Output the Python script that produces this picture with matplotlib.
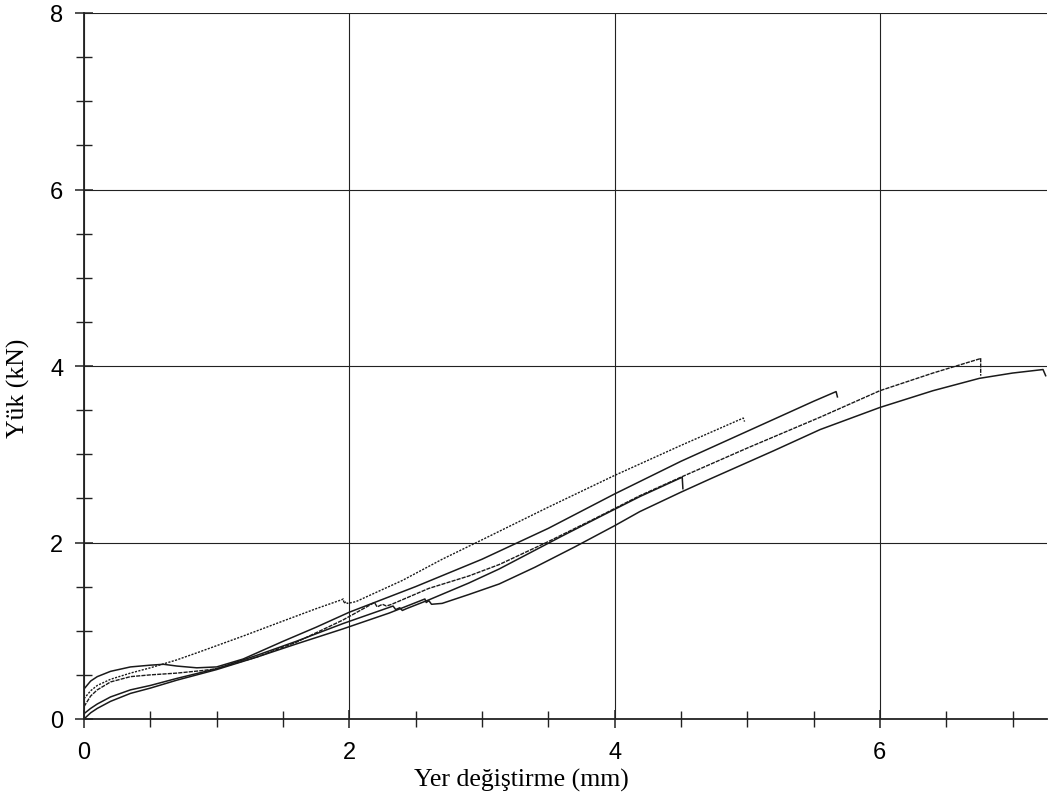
import matplotlib
matplotlib.use("Agg")
import matplotlib.pyplot as plt
from matplotlib.ticker import MultipleLocator

# ---- data ----
xlabel = "Yer değiştirme (mm)"
ylabel = "Yük (kN)"
x_major_ticks = [0, 2, 4, 6]
y_major_ticks = [0, 2, 4, 6, 8]

# Specimen A (dotted), ends at ~4.97 mm
a_x = [0, 0.05, 0.1, 0.2, 0.35, 0.5, 0.7, 0.87, 1.2, 1.5, 1.75, 1.94, 1.955, 1.96, 1.975, 1.985, 2.02, 2.05,
       2.4, 2.7, 3.0, 3.5, 4.0, 4.5, 4.97, 4.98]
a_y = [0.23, 0.32, 0.38, 0.45, 0.52, 0.58, 0.67, 0.76, 0.94, 1.11, 1.25, 1.35, 1.36, 1.31, 1.33, 1.31, 1.32, 1.33,
       1.57, 1.81, 2.03, 2.40, 2.76, 3.10, 3.41, 3.37]

# Specimen B (solid, hump at start), ends at ~5.68 mm
b_x = [0, 0.05, 0.1, 0.2, 0.35, 0.5, 0.6, 0.7, 0.85, 1.0, 1.2, 1.5, 1.75, 2.0, 2.5, 3.0, 3.5, 4.0, 4.5, 5.0, 5.5,
       5.67, 5.68]
b_y = [0.34, 0.43, 0.48, 0.54, 0.59, 0.61, 0.62, 0.60, 0.58, 0.59, 0.68, 0.88, 1.04, 1.21, 1.50, 1.81, 2.16, 2.55,
       2.92, 3.26, 3.60, 3.71, 3.65]

# Specimen C (fine dashed), ends at ~6.76 mm
c_x = [0, 0.05, 0.1, 0.2, 0.35, 0.5, 0.7, 0.9, 1.0, 1.3, 1.6, 1.95, 2.19, 2.21, 2.25, 2.28, 2.32, 2.6, 2.9, 3.13,
       3.5, 3.85, 4.19, 4.5, 5.0, 5.55, 6.0, 6.4, 6.75, 6.76, 6.76]
c_y = [0.14, 0.26, 0.33, 0.42, 0.48, 0.50, 0.52, 0.55, 0.57, 0.70, 0.87, 1.12, 1.32, 1.27, 1.30, 1.28, 1.30, 1.48,
       1.62, 1.75, 2.01, 2.27, 2.53, 2.74, 3.07, 3.42, 3.72, 3.92, 4.08, 4.09, 3.89]

# Specimen D (solid), ends at ~4.51 mm
d_x = [0, 0.05, 0.1, 0.2, 0.35, 0.5, 0.7, 1.0, 1.3, 1.6, 1.95, 2.33, 2.35, 2.38, 2.40, 2.43, 2.6, 2.9, 3.13, 3.6,
       3.9, 4.19, 4.51, 4.515]
d_y = [0.06, 0.12, 0.17, 0.25, 0.33, 0.38, 0.46, 0.57, 0.72, 0.88, 1.08, 1.28, 1.24, 1.26, 1.23, 1.25, 1.35,
       1.54, 1.70, 2.07, 2.30, 2.52, 2.74, 2.61]

# Specimen E (solid), ends at ~7.25 mm
e_x = [0, 0.05, 0.1, 0.2, 0.35, 0.5, 0.7, 1.0, 1.3, 1.6, 1.95, 2.3, 2.57, 2.58, 2.60, 2.62, 2.70, 2.9, 3.13, 3.4,
       3.7, 4.0, 4.19, 4.5, 4.72, 5.2, 5.55, 6.0, 6.4, 6.75, 7.0, 7.23, 7.25]
e_y = [0.0, 0.07, 0.12, 0.20, 0.29, 0.35, 0.44, 0.56, 0.70, 0.85, 1.02, 1.20, 1.36, 1.32, 1.34, 1.30, 1.31, 1.41,
       1.53, 1.72, 1.95, 2.19, 2.35, 2.57, 2.72, 3.04, 3.28, 3.53, 3.72, 3.86, 3.92, 3.96, 3.89]

# ---- figure ----
fig = plt.figure(figsize=(10.48, 8.03), dpi=100)
ax = fig.add_axes([84 / 1048, 1 - 720 / 803, (1047 - 84) / 1048, (720 - 14) / 803])

col = "#1a1a1a"
ax.plot(a_x, a_y, color=col, lw=1.0, linestyle=(0, (1.5, 1.0)))
ax.plot(b_x, b_y, color=col, lw=1.1)
ax.plot(c_x, c_y, color=col, lw=1.0, linestyle=(0, (3.0, 0.8)))
ax.plot(d_x, d_y, color=col, lw=1.1)
ax.plot(e_x, e_y, color=col, lw=1.1)

ax.set_xlim(0, 7.26)
ax.set_ylim(0, 8)
ax.set_xticks(x_major_ticks)
ax.set_yticks(y_major_ticks)
ax.xaxis.set_minor_locator(MultipleLocator(0.5))
ax.yaxis.set_minor_locator(MultipleLocator(0.5))
ax.grid(True, which="major", color="#222222", lw=0.8)
ax.set_axisbelow(True)

for s in ["top", "right"]:
    ax.spines[s].set_visible(False)
for s in ["left", "bottom"]:
    ax.spines[s].set_linewidth(1.3)
    ax.spines[s].set_color("#222222")

ax.tick_params(which="major", direction="inout", length=13, width=1.1, color="#222222",
               labelsize=17)
ax.tick_params(axis="y", which="major", pad=8.5)
ax.tick_params(axis="x", which="major", pad=9)
ax.tick_params(which="minor", direction="inout", length=11, width=1.0, color="#222222")
for lab in ax.get_xticklabels() + ax.get_yticklabels():
    lab.set_fontfamily("Liberation Sans")

ax.set_xlabel(xlabel, fontsize=18.5, fontfamily="Liberation Serif")
ax.set_ylabel(ylabel, fontsize=18.5, fontfamily="Liberation Serif")
ax.xaxis.set_label_coords(0.454, -0.069)
ax.yaxis.set_label_coords(-0.056, 0.47)

fig.savefig("out.png", dpi=100)
